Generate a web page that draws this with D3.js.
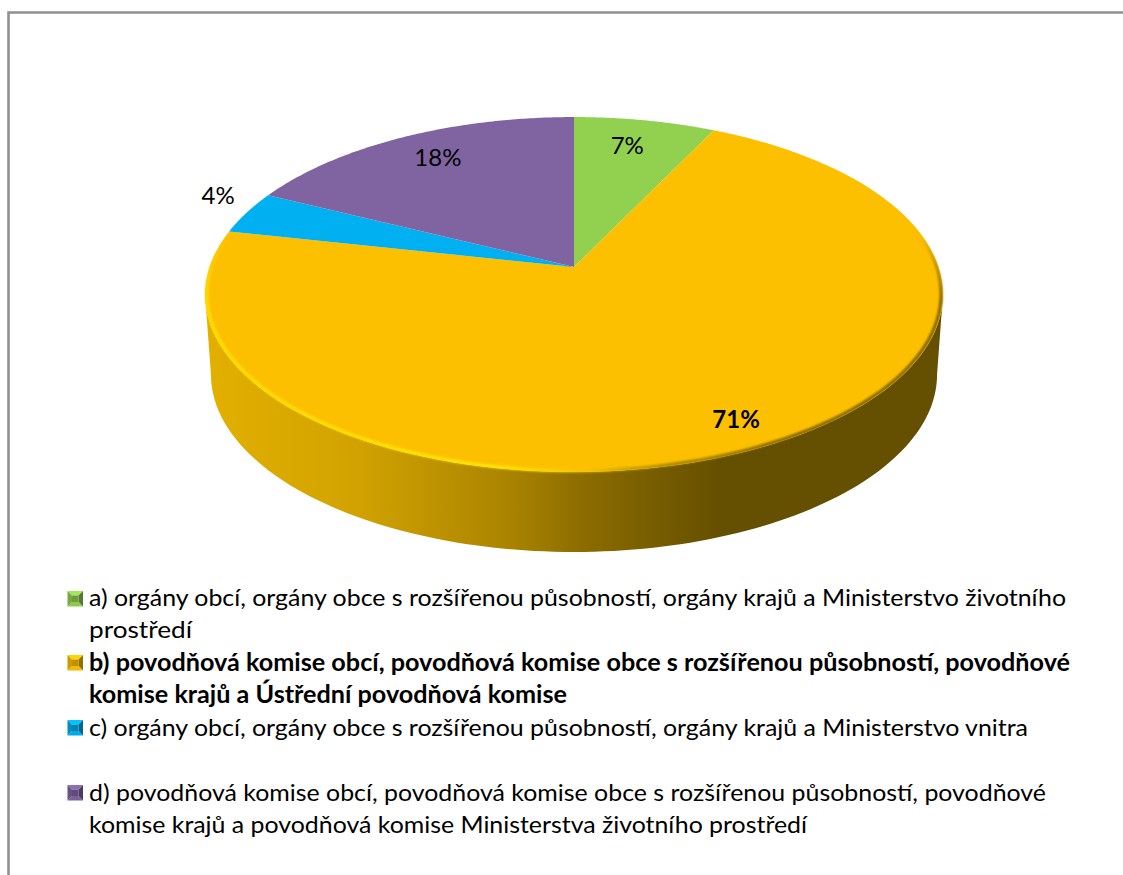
<!DOCTYPE html>
<html lang="cs"><head><meta charset="utf-8">
<style>html,body{margin:0;padding:0;background:#fff}svg{display:block}</style>
<script src="https://cdnjs.cloudflare.com/ajax/libs/d3/7.8.5/d3.min.js"></script>
</head><body><div id="chart"></div>
<script>
const categories = ["a","b","c","d"];
const values = [7.2, 71.2, 3.9, 17.7];
const colors = ["#92d050","#fdc000","#00b0f0","#8064a2"];
const legendLines = [
  ["a) orgány obcí, orgány obce s rozšířenou působností, orgány krajů a Ministerstvo životního","prostředí"],
  ["b) povodňová komise obcí, povodňová komise obce s rozšířenou působností, povodňové","komise krajů a Ústřední povodňová komise"],
  ["c) orgány obcí, orgány obce s rozšířenou působností, orgány krajů a Ministerstvo vnitra"],
  ["d) povodňová komise obcí, povodňová komise obce s rozšířenou působností, povodňové","komise krajů a povodňová komise Ministerstva životního prostředí"]
];

const W=1123,H=875;
const svg=d3.select("#chart").append("svg").attr("width",W).attr("height",H);
const defs=svg.append("defs");

// frame
svg.append("path").attr("d",`M8.5 ${H} V12.5 H${W}`).attr("fill","none").attr("stroke","#8f8f8f").attr("stroke-width",2.6);

// perspective disc projection
const cx=574, cy=267, k=0.155, halfW=364.5, halfH=173.2, depth=80, baseScale=0.984;
const xS=d3.scaleLinear().domain([-1,1]).range([cx-halfW,cx+halfW]);
const xB=d3.scaleLinear().domain([-1,1]).range([cx-halfW*baseScale,cx+halfW*baseScale]);
const yS=d3.scaleLinear().domain([-1,1]).range([cy+halfH,cy-halfH]);
const proj=(t,r=1,sx=xS,dy=0)=>{const u=r*Math.sin(t),v=r*Math.cos(t),d=1+k*v;return [sx(u/d),yS(v/d)+dy];};
const sweep=(a,b)=>d3.range(0,121).map(i=>a+(b-a)*i/120);
const pathLine=d3.line();

const arcs=d3.pie().sort(null).value(d=>d)(values);
const tL=Math.acos(-k), tR=2*Math.PI-tL;  // silhouette angles

// side wall
const grad=defs.append("linearGradient").attr("id","wall").attr("gradientUnits","userSpaceOnUse")
  .attr("x1",205).attr("x2",943).attr("y1",0).attr("y2",0);
[[0,"#e3b000"],[.2,"#d2a300"],[.4,"#ad8600"],[.52,"#8a6b00"],[.7,"#654f00"],[1,"#654f00"]]
  .forEach(([o,c])=>grad.append("stop").attr("offset",o).attr("stop-color",c));
const topRim=sweep(tL,tR).map(t=>proj(t));
const botRim=sweep(tR,tL).map(t=>proj(t,1,xB,depth));
svg.append("path").attr("d",pathLine(topRim.concat(botRim))+"Z").attr("fill","url(#wall)");

// top face
svg.append("g").selectAll("path").data(arcs).join("path")
  .attr("d",d=>pathLine([[cx,cy]].concat(sweep(d.startAngle,d.endAngle).map(t=>proj(t))))+"Z")
  .attr("fill",(d,i)=>colors[i]);

// bevel rim on the largest slice, fading out towards the back of the disc
const softF=defs.append("filter").attr("id","soft").attr("x","-5%").attr("y","-5%").attr("width","110%").attr("height","110%");
softF.append("feGaussianBlur").attr("stdDeviation",0.8);
const rimG=defs.append("linearGradient").attr("id","rim").attr("gradientUnits","userSpaceOnUse")
  .attr("x1",205).attr("x2",943).attr("y1",0).attr("y2",0);
[[0,"#ffe000"],[.4,"#ffe800"],[.52,"#f0c400"],[.62,"#a88600"],[.8,"#7a5f00"],[1,"#7a5f00"]]
  .forEach(([o,c])=>rimG.append("stop").attr("offset",o).attr("stop-color",c));
const fadeG=defs.append("linearGradient").attr("id","rimFade").attr("gradientUnits","userSpaceOnUse")
  .attr("x1",0).attr("x2",0).attr("y1",235).attr("y2",300);
fadeG.append("stop").attr("offset",0).attr("stop-color","#000");
fadeG.append("stop").attr("offset",1).attr("stop-color","#fff");
defs.append("mask").attr("id","rimMask").attr("maskUnits","userSpaceOnUse")
  .attr("x",0).attr("y",0).attr("width",W).attr("height",H)
  .append("rect").attr("width",W).attr("height",H).attr("fill","url(#rimFade)");
svg.append("g").attr("mask","url(#rimMask)").append("path")
  .attr("d",pathLine(sweep(arcs[1].startAngle,arcs[1].endAngle).map(t=>proj(t,0.995))))
  .attr("fill","none").attr("stroke","url(#rim)").attr("stroke-width",3).attr("filter","url(#soft)");

// value labels
const labelRadius=[0.8,0.87,1.13,0.81], labelTurn=[-0.02,-0.014,0.06,0.02];
const pct=d3.format(".0f");
const labelPos=(d,i)=>proj((d.startAngle+d.endAngle)/2+labelTurn[i],labelRadius[i]);
svg.append("g").selectAll("text").data(arcs).join("text")
  .attr("x",(d,i)=>labelPos(d,i)[0])
  .attr("y",(d,i)=>labelPos(d,i)[1]+8)
  .attr("text-anchor","middle")
  .attr("font-family","Lato,'Open Sans',sans-serif").attr("font-size",24)
  .attr("font-weight",(d,i)=>i===1?700:400).attr("fill","#000")
  .text(d=>pct(d.value)+"%");

// legend
const markerTop=[591,655,720,785], baseline=[[606,638],[671,703],[736],[801,833]];
const lineEnd=[[1066,192],[1070,567],[1028],[1046,807]];
const textX=89, mx=67.5, ms=15.5, inset=4.5;
const lg=svg.append("g");
categories.forEach((c,i)=>{
  const y=markerTop[i], col=d3.color(colors[i]);
  const o=[[mx,y],[mx+ms,y],[mx+ms,y+ms],[mx,y+ms]];
  const n=[[mx+inset,y+inset],[mx+ms-inset,y+inset],[mx+ms-inset,y+ms-inset],[mx+inset,y+ms-inset]];
  const shade=[col.brighter(.3),col.darker(1.5),col.darker(.1),col.darker(.6)];
  shade.forEach((s,j)=>{const q=(j+1)%4;
    lg.append("path").attr("d",pathLine([o[j],o[q],n[q],n[j]])+"Z").attr("fill",s);});
  lg.append("path").attr("d",pathLine(n)+"Z").attr("fill",col.darker(.8));
  legendLines[i].forEach((t,j)=>{
    lg.append("text").attr("x",textX).attr("y",baseline[i][j])
      .attr("font-family","Lato,'Open Sans',sans-serif").attr("font-size",24)
      .attr("font-weight",i===1?700:400).attr("fill","#000")
      .attr("textLength",lineEnd[i][j]-textX).attr("lengthAdjust","spacingAndGlyphs").text(t);
  });
});
</script></body></html>
